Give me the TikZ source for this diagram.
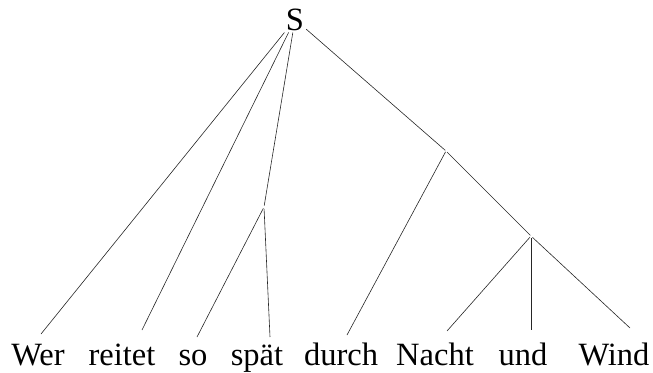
\documentclass[tikz,border=0pt]{standalone}
\usepackage{fontspec}
\setmainfont{Liberation Serif}
\begin{document}
\begin{tikzpicture}[x=1pt,y=-1pt,
  word/.style={font=\fontsize{32.5}{38}\selectfont, inner sep=0pt, anchor=base},
  edge/.style={line width=0.6pt, black!85},
]
\useasboundingbox (0,0) rectangle (653,372);
% root
\node[word, inner sep=2pt] (s) at (295,30) {S};
% words
\node[word] (wer)    at (38,365)  {Wer};
\node[word] (reitet) at (122,365) {reitet};
\node[word] (so)     at (193,365) {so};
\node[word] (spaet)  at (257,365) {spät};
\node[word] (durch)  at (341,365) {durch};
\node[word] (nacht)  at (435,365) {Nacht};
\node[word] (und)    at (523,365) {und};
\node[word] (wind)   at (614,365) {Wind};
% inner branching points
\coordinate (a) at (264,207);
\coordinate (b) at (446,151);
\coordinate (c) at (531,236);
% free ends of the connectors above the words
\coordinate (e1) at (41,334);
\coordinate (e2) at (142,330);
\coordinate (e3) at (197,337);
\coordinate (e4) at (270,337);
\coordinate (e5) at (347,335);
\coordinate (e6) at (447,331);
\coordinate (e7) at (531,330);
\coordinate (e8) at (630,328);
% connectors
\draw[edge] (s) -- (e1);
\draw[edge] (s) -- (e2);
\draw[edge, shorten >=1.5pt] (s) -- (a);
\draw[edge, shorten >=1pt] (s) -- (b);
\draw[edge, shorten <=1.5pt] (a) -- (e3);
\draw[edge, shorten <=2pt] (a) -- (e4);
\draw[edge, shorten <=1pt] (b) -- (e5);
\draw[edge, shorten <=1.5pt, shorten >=1pt] (b) -- (c);
\draw[edge, shorten <=1.5pt] (c) -- (e6);
\draw[edge, shorten <=2pt] (c) -- (e7);
\draw[edge, shorten <=2pt] (c) -- (e8);
\end{tikzpicture}
\end{document}
